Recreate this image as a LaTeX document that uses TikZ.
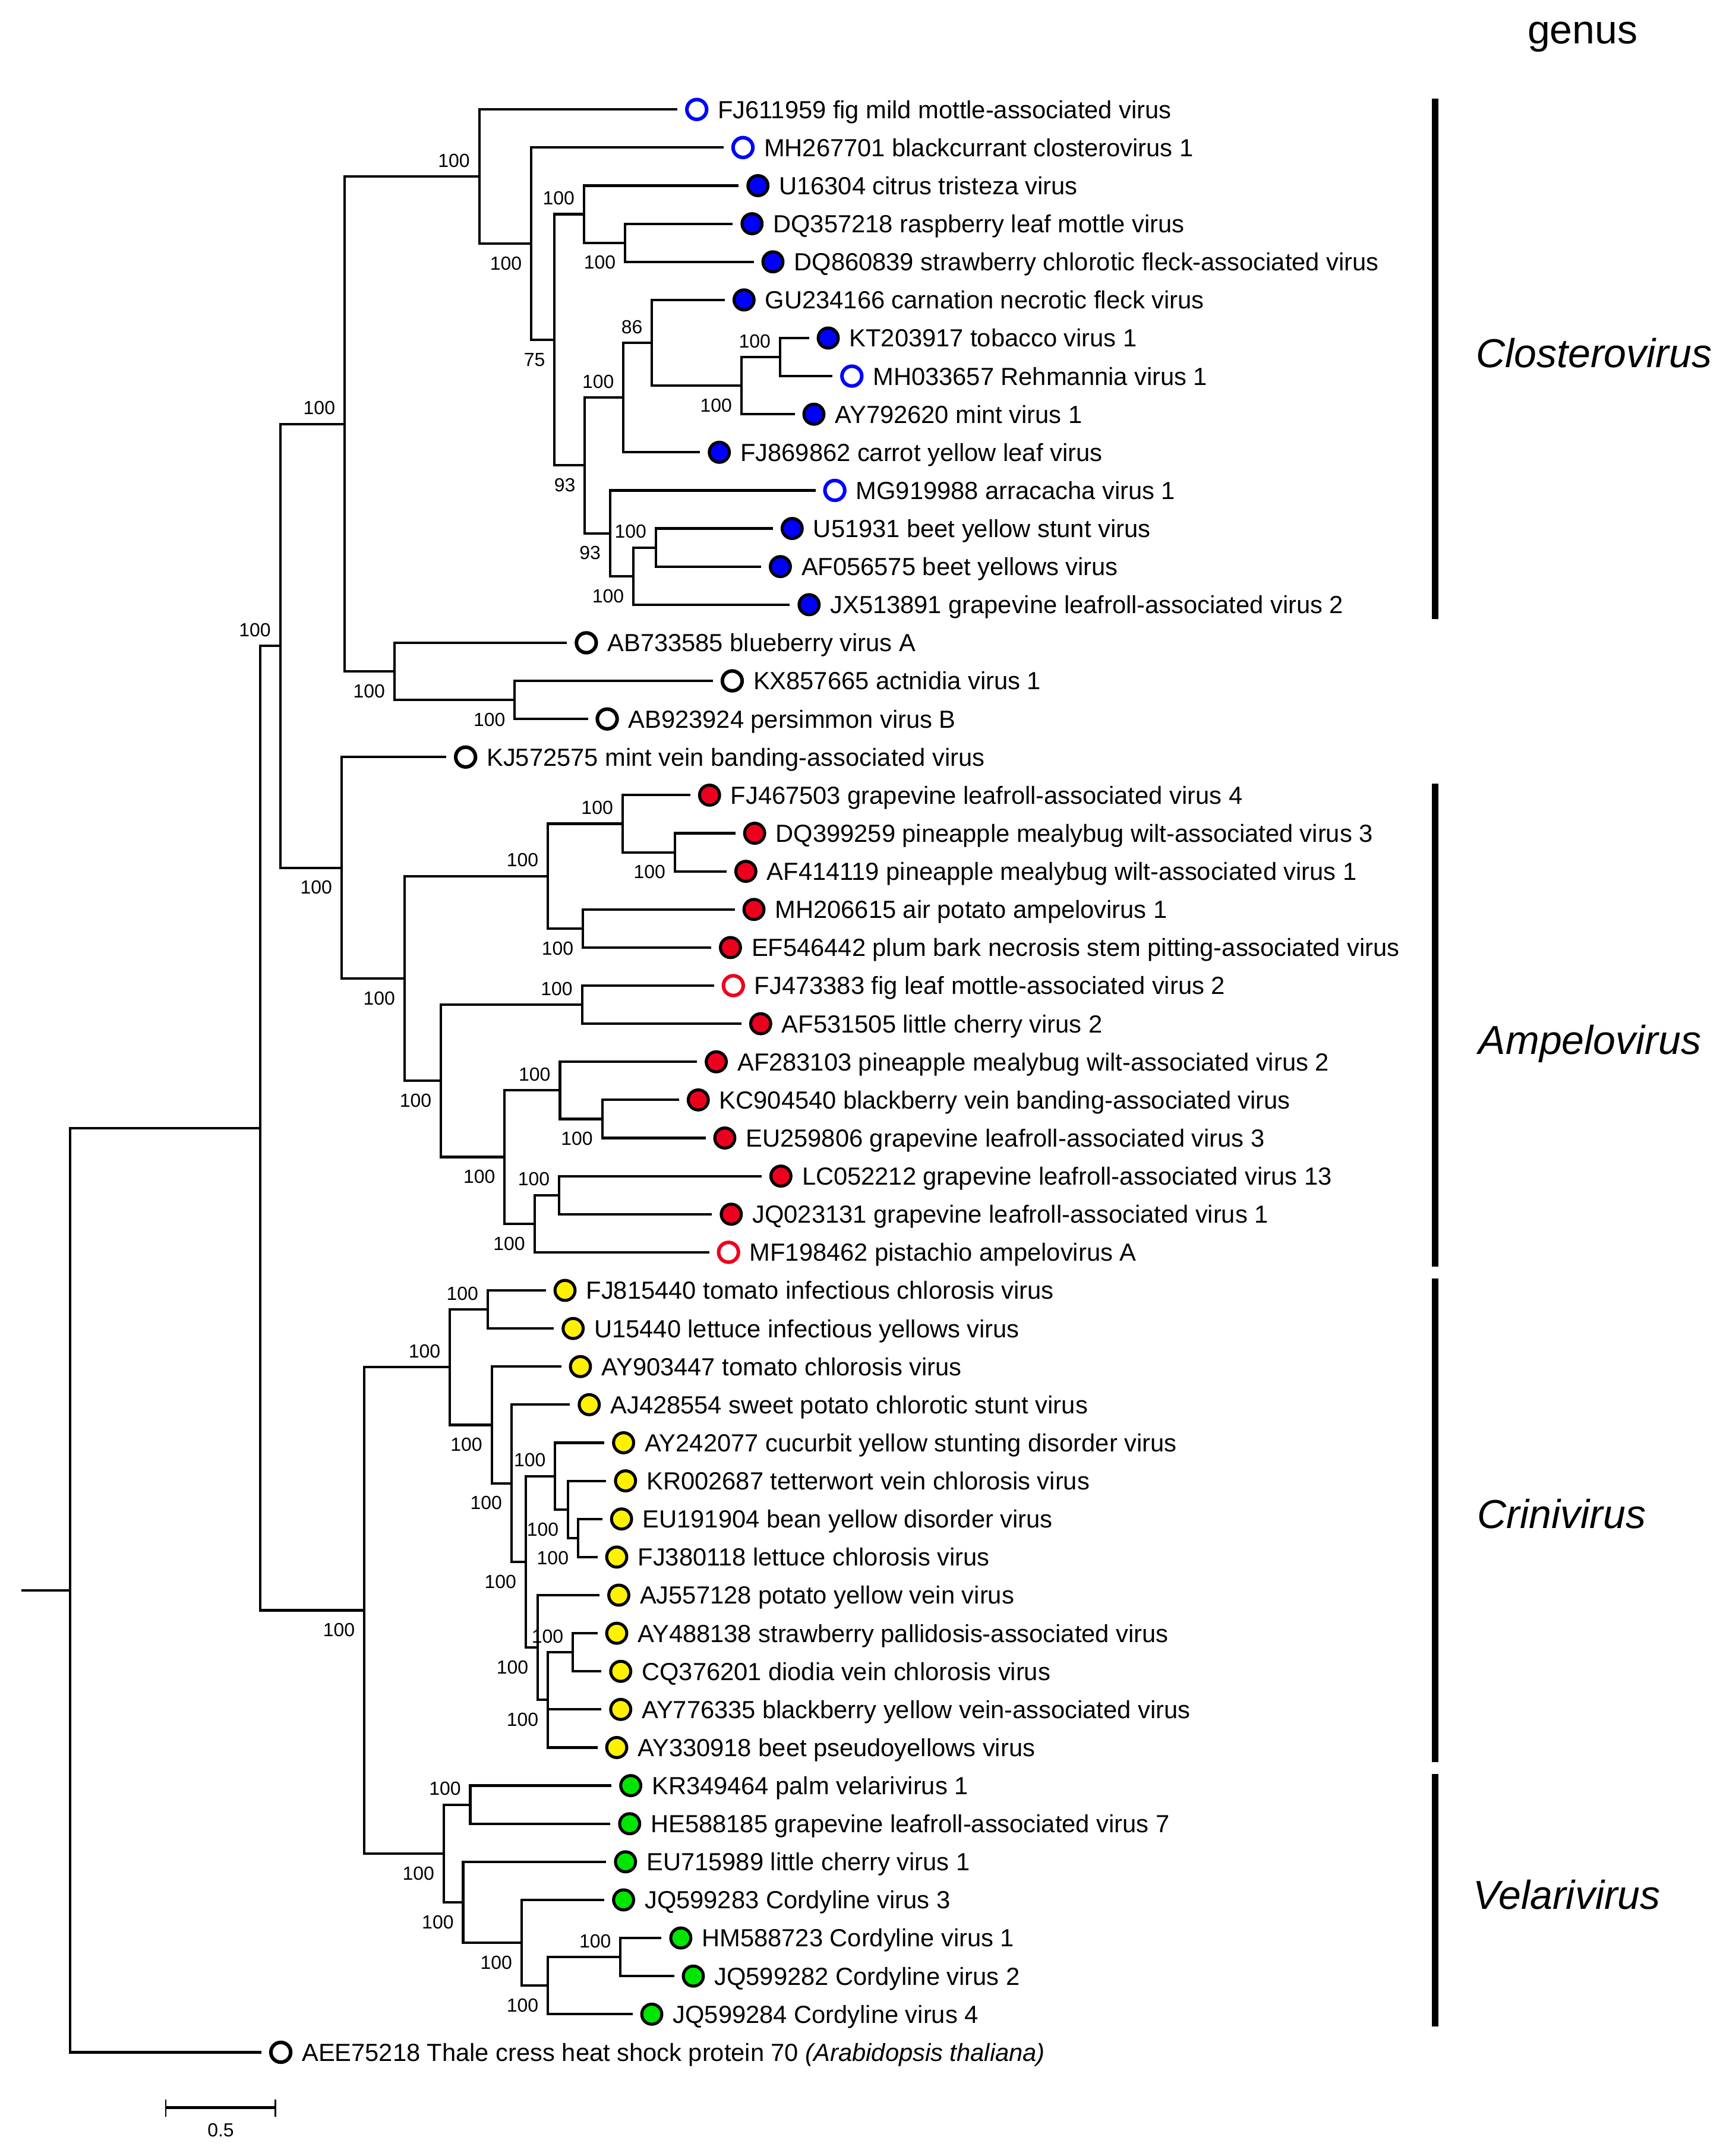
\documentclass[tikz,border=0pt]{standalone}
\usepackage{fontspec}
\setmainfont{Liberation Sans}
\usetikzlibrary{calc}
\definecolor{cblue}{RGB}{0,0,255}
\definecolor{cred}{RGB}{237,0,30}
\definecolor{cyel}{RGB}{255,242,0}
\definecolor{cgrn}{RGB}{0,230,0}
\tikzset{
  br/.style={line width=0.9pt},
  dot/.style={circle, inner sep=0pt, minimum size=7.3pt, line width=1.1pt},
  odot/.style={circle, inner sep=0pt, minimum size=7.2pt, line width=1.3pt, fill=white},
  fb/.style={dot, draw=black, fill=cblue},
  fr/.style={dot, draw=black, fill=cred},
  fy/.style={dot, draw=black, fill=cyel},
  fg/.style={dot, draw=black, fill=cgrn},
  ob/.style={odot, draw=cblue},
  orr/.style={odot, draw=cred},
  ok/.style={odot, draw=black},
  lbl/.style={anchor=base west, inner sep=0pt, font=\fontsize{9}{10}\selectfont},
  bs/.style={anchor=east, inner sep=0pt, font=\fontsize{6.9}{8}\selectfont},
  genlbl/.style={anchor=base west, inner sep=0pt, font=\fontsize{14.7}{16}\selectfont\itshape},
  bar/.style={line width=2.4pt},
}
\newcommand{\tleaf}[5]{\coordinate (#1) at (#2,#3); \node[#4] (#1c) at ({#2+14},#3) {}; \node[lbl] (#1t) at ({#2+29},{#3+6.45}) {#5};}
\newcommand{\tedge}[2]{\draw[br] (#1) |- (#2);}
\newcommand{\bslup}[2]{\node[bs] (#1-bs) at ($(#1)+(-6.5,-11.6)$) {#2};}
\newcommand{\bsldn}[2]{\node[bs] (#1-bs) at ($(#1)+(-6.5,14.4)$) {#2};}
\begin{document}
\begin{tikzpicture}[x=0.5pt,y=-0.5pt]
\useasboundingbox (0,0) rectangle (1253,1568);
% ---------------- leaves
\tleaf{L1}{492.7}{79.6}{ob}{FJ611959 fig mild mottle-associated virus}
\tleaf{L2}{526.3}{107.305}{ob}{MH267701 blackcurrant closterovirus 1}
\tleaf{L3}{537.2}{135.01}{fb}{U16304 citrus tristeza virus}
\tleaf{L4}{532.9}{162.715}{fb}{DQ357218 raspberry leaf mottle virus}
\tleaf{L5}{548.1}{190.42}{fb}{DQ860839 strawberry chlorotic fleck-associated virus}
\tleaf{L6}{527.1}{218.125}{fb}{GU234166 carnation necrotic fleck virus}
\tleaf{L7}{588.3}{245.83}{fb}{KT203917 tobacco virus 1}
\tleaf{L8}{605.5}{273.535}{ob}{MH033657 Rehmannia virus 1}
\tleaf{L9}{577.9}{301.24}{fb}{AY792620 mint virus 1}
\tleaf{L10}{509.1}{328.945}{fb}{FJ869862 carrot yellow leaf virus}
\tleaf{L11}{593.1}{356.65}{ob}{MG919988 arracacha virus 1}
\tleaf{L12}{562.1}{384.355}{fb}{U51931 beet yellow stunt virus}
\tleaf{L13}{553.5}{412.06}{fb}{AF056575 beet yellows virus}
\tleaf{L14}{574.4}{439.765}{fb}{JX513891 grapevine leafroll-associated virus 2}
\tleaf{L15}{412.4}{467.47}{ok}{AB733585 blueberry virus A}
\tleaf{L16}{518.5}{495.175}{ok}{KX857665 actnidia virus 1}
\tleaf{L17}{427.6}{522.88}{ok}{AB923924 persimmon virus B}
\tleaf{L18}{324.6}{550.585}{ok}{KJ572575 mint vein banding-associated virus}
\tleaf{L19}{502.0}{578.29}{fr}{FJ467503 grapevine leafroll-associated virus 4}
\tleaf{L20}{534.8}{605.995}{fr}{DQ399259 pineapple mealybug wilt-associated virus 3}
\tleaf{L21}{528.4}{633.7}{fr}{AF414119 pineapple mealybug wilt-associated virus 1}
\tleaf{L22}{534.3}{661.405}{fr}{MH206615 air potato ampelovirus 1}
\tleaf{L23}{517.2}{689.11}{fr}{EF546442 plum bark necrosis stem pitting-associated virus}
\tleaf{L24}{519.3}{716.815}{orr}{FJ473383 fig leaf mottle-associated virus 2}
\tleaf{L25}{539.2}{744.52}{fr}{AF531505 little cherry virus 2}
\tleaf{L26}{506.9}{772.225}{fr}{AF283103 pineapple mealybug wilt-associated virus 2}
\tleaf{L27}{493.8}{799.93}{fr}{KC904540 blackberry vein banding-associated virus}
\tleaf{L28}{513.1}{827.635}{fr}{EU259806 grapevine leafroll-associated virus 3}
\tleaf{L29}{553.9}{855.34}{fr}{LC052212 grapevine leafroll-associated virus 13}
\tleaf{L30}{517.8}{883.045}{fr}{JQ023131 grapevine leafroll-associated virus 1}
\tleaf{L31}{515.8}{910.75}{orr}{MF198462 pistachio ampelovirus A}
\tleaf{L32}{396.9}{938.455}{fy}{FJ815440 tomato infectious chlorosis virus}
\tleaf{L33}{402.8}{966.16}{fy}{U15440 lettuce infectious yellows virus}
\tleaf{L34}{408.1}{993.865}{fy}{AY903447 tomato chlorosis virus}
\tleaf{L35}{414.5}{1021.57}{fy}{AJ428554 sweet potato chlorotic stunt virus}
\tleaf{L36}{439.5}{1049.275}{fy}{AY242077 cucurbit yellow stunting disorder virus}
\tleaf{L37}{440.9}{1076.98}{fy}{KR002687 tetterwort vein chlorosis virus}
\tleaf{L38}{438.0}{1104.685}{fy}{EU191904 bean yellow disorder virus}
\tleaf{L39}{434.5}{1132.39}{fy}{FJ380118 lettuce chlorosis virus}
\tleaf{L40}{436.0}{1160.095}{fy}{AJ557128 potato yellow vein virus}
\tleaf{L41}{434.5}{1187.8}{fy}{AY488138 strawberry pallidosis-associated virus}
\tleaf{L42}{437.4}{1215.505}{fy}{CQ376201 diodia vein chlorosis virus}
\tleaf{L43}{437.4}{1243.21}{fy}{AY776335 blackberry yellow vein-associated virus}
\tleaf{L44}{434.5}{1270.915}{fy}{AY330918 beet pseudoyellows virus}
\tleaf{L45}{444.7}{1298.62}{fg}{KR349464 palm velarivirus 1}
\tleaf{L46}{443.9}{1326.325}{fg}{HE588185 grapevine leafroll-associated virus 7}
\tleaf{L47}{440.9}{1354.03}{fg}{EU715989 little cherry virus 1}
\tleaf{L48}{439.5}{1381.735}{fg}{JQ599283 Cordyline virus 3}
\tleaf{L49}{481.1}{1409.44}{fg}{HM588723 Cordyline virus 1}
\tleaf{L50}{490.2}{1437.145}{fg}{JQ599282 Cordyline virus 2}
\tleaf{L51}{460.0}{1464.85}{fg}{JQ599284 Cordyline virus 4}
\tleaf{L52}{190.2}{1492.555}{ok}{AEE75218 Thale cress heat shock protein 70 \textit{(Arabidopsis thaliana)}}
% ---------------- internal nodes: Closterovirus
\coordinate (n454) at (454.6,176.57); \tedge{n454}{L4} \tedge{n454}{L5}
\coordinate (n425) at (424.7,155.79); \tedge{n425}{L3} \tedge{n425}{n454}
\coordinate (n567) at (567.3,259.68); \tedge{n567}{L7} \tedge{n567}{L8}
\coordinate (n539) at (539.2,280.46); \tedge{n539}{n567} \tedge{n539}{L9}
\coordinate (n474) at (474.1,249.29); \tedge{n474}{L6} \tedge{n474}{n539}
\coordinate (n453) at (453.4,289.12); \tedge{n453}{n474} \tedge{n453}{L10}
\coordinate (n477) at (477.0,398.21); \tedge{n477}{L12} \tedge{n477}{L13}
\coordinate (n461) at (460.6,418.99); \tedge{n461}{n477} \tedge{n461}{L14}
\coordinate (n444) at (443.7,387.82); \tedge{n444}{L11} \tedge{n444}{n461}
\coordinate (nA) at (425.3,338.47); \tedge{nA}{n453} \tedge{nA}{n444}
\coordinate (n403) at (403.3,247.13); \tedge{n403}{n425} \tedge{n403}{nA}
\coordinate (n386) at (386.3,177.22); \tedge{n386}{L2} \tedge{n386}{n403}
\coordinate (n348) at (348.5,128.41); \tedge{n348}{L1} \tedge{n348}{n386}
\coordinate (n374) at (374.3,509.03); \tedge{n374}{L16} \tedge{n374}{L17}
\coordinate (n287) at (286.8,488.25); \tedge{n287}{L15} \tedge{n287}{n374}
\coordinate (n250) at (250.6,308.33); \tedge{n250}{n348} \tedge{n250}{n287}
% Ampelovirus
\coordinate (n491) at (490.8,619.85); \tedge{n491}{L20} \tedge{n491}{L21}
\coordinate (n453b) at (452.7,599.07); \tedge{n453b}{L19} \tedge{n453b}{n491}
\coordinate (n424b) at (423.9,675.26); \tedge{n424b}{L22} \tedge{n424b}{L23}
\coordinate (n398) at (398.4,637.17); \tedge{n398}{n453b} \tedge{n398}{n424b}
\coordinate (n423c) at (423.3,730.67); \tedge{n423c}{L24} \tedge{n423c}{L25}
\coordinate (n438) at (438.0,813.78); \tedge{n438}{L27} \tedge{n438}{L28}
\coordinate (n407) at (407.2,793.0); \tedge{n407}{L26} \tedge{n407}{n438}
\coordinate (n407b) at (406.6,869.19); \tedge{n407b}{L29} \tedge{n407b}{L30}
\coordinate (n389) at (388.7,889.97); \tedge{n389}{n407b} \tedge{n389}{L31}
\coordinate (n367) at (367.0,841.49); \tedge{n367}{n407} \tedge{n367}{n389}
\coordinate (n321) at (320.6,786.08); \tedge{n321}{n423c} \tedge{n321}{n367}
\coordinate (n294) at (294.2,711.63); \tedge{n294}{n398} \tedge{n294}{n321}
\coordinate (n248) at (248.4,631.11); \tedge{n248}{L18} \tedge{n248}{n294}
\coordinate (n204) at (203.8,469.72); \tedge{n204}{n250} \tedge{n204}{n248}
% Crinivirus
\coordinate (n355) at (354.7,952.31); \tedge{n355}{L32} \tedge{n355}{L33}
\coordinate (n420) at (420.4,1118.54); \tedge{n420}{L38} \tedge{n420}{L39}
\coordinate (n413) at (413.1,1097.76); \tedge{n413}{L37} \tedge{n413}{n420}
\coordinate (n404) at (403.7,1073.52); \tedge{n404}{L36} \tedge{n404}{n413}
\coordinate (n417) at (416.6,1201.65); \tedge{n417}{L41} \tedge{n417}{L42}
\coordinate (n398c) at (398.4,1236.28); \tedge{n398c}{n417} \tedge{n398c}{L43} \tedge{n398c}{L44}
\coordinate (n391) at (391.1,1198.19); \tedge{n391}{L40} \tedge{n391}{n398c}
\coordinate (n382) at (382.3,1135.86); \tedge{n382}{n404} \tedge{n382}{n391}
\coordinate (n372) at (372.0,1078.72); \tedge{n372}{L35} \tedge{n372}{n382}
\coordinate (n358) at (357.6,1036.29); \tedge{n358}{L34} \tedge{n358}{n372}
\coordinate (n327) at (327.1,994.30); \tedge{n327}{n355} \tedge{n327}{n358}
% Velarivirus
\coordinate (n342) at (342.0,1312.47); \tedge{n342}{L45} \tedge{n342}{L46}
\coordinate (n451) at (451.2,1423.29); \tedge{n451}{L49} \tedge{n451}{L50}
\coordinate (n398v) at (398.4,1444.07); \tedge{n398v}{n451} \tedge{n398v}{L51}
\coordinate (n379) at (379.3,1412.90); \tedge{n379}{L48} \tedge{n379}{n398v}
\coordinate (n337) at (336.8,1383.47); \tedge{n337}{L47} \tedge{n337}{n379}
\coordinate (n323) at (322.7,1347.97); \tedge{n323}{n342} \tedge{n323}{n337}
\coordinate (n265) at (264.9,1171.14); \tedge{n265}{n327} \tedge{n265}{n323}
\coordinate (n189) at (189.1,820.43); \tedge{n189}{n204} \tedge{n189}{n265}
\coordinate (root) at (50.9,1156.49); \tedge{root}{n189} \tedge{root}{L52}
\coordinate (stub) at (15.5,1156.49); \draw[br] (stub) -- (root);
% ---------------- bootstrap values
\bslup{n204}{100}
\bslup{n250}{100}
\bslup{n348}{100}
\bsldn{n386}{100}
\bsldn{n403}{75}
\bslup{n425}{100}
\bsldn{n454}{100}
\bsldn{nA}{93}
\bslup{n453}{100}
\bslup{n474}{86}
\bsldn{n539}{100}
\bslup{n567}{100}
\bsldn{n444}{93}
\bsldn{n461}{100}
\bslup{n477}{100}
\bsldn{n287}{100}
\bsldn{n374}{100}
\bsldn{n248}{100}
\bsldn{n294}{100}
\bslup{n398}{100}
\bslup{n453b}{100}
\bsldn{n491}{100}
\bsldn{n424b}{100}
\bsldn{n321}{100}
\bslup{n423c}{100}
\bsldn{n367}{100}
\bslup{n407}{100}
\bsldn{n438}{100}
\bsldn{n389}{100}
\bslup{n407b}{100}
\bsldn{n265}{100}
\bslup{n327}{100}
\bslup{n355}{100}
\bsldn{n358}{100}
\bsldn{n372}{100}
\bsldn{n382}{100}
\bslup{n404}{100}
\bsldn{n413}{100}
\bsldn{n420}{100}
\bsldn{n391}{100}
\bsldn{n398c}{100}
\bslup{n417}{100}
\bsldn{n323}{100}
\bslup{n342}{100}
\bsldn{n337}{100}
\bsldn{n379}{100}
\bsldn{n398v}{100}
\bslup{n451}{100}
% ---------------- genus bars and labels
\node[anchor=base west, inner sep=0pt, font=\fontsize{14.7}{16}\selectfont] (genus) at (1110.5,31.8) {genus};
\coordinate (cb1) at (1043.7,71.7);  \coordinate (cb2) at (1043.7,450.1);
\coordinate (ab1) at (1043.7,569.9); \coordinate (ab2) at (1043.7,921.1);
\coordinate (rb1) at (1043.7,929.7); \coordinate (rb2) at (1043.7,1281.4);
\coordinate (vb1) at (1043.7,1290.1); \coordinate (vb2) at (1043.7,1474.0);
\draw[bar] (cb1) -- (cb2);
\draw[bar] (ab1) -- (ab2);
\draw[bar] (rb1) -- (rb2);
\draw[bar] (vb1) -- (vb2);
\node[genlbl] (gclo) at (1073,267.3) {Closterovirus};
\node[genlbl] (gamp) at (1075,766.5) {Ampelovirus};
\node[genlbl] (gcri) at (1074,1111.5) {Crinivirus};
\node[genlbl] (gvel) at (1071,1388.5) {Velarivirus};
% ---------------- scale bar
\coordinate (sbl) at (120.5,1532.8); \coordinate (sbr) at (200.3,1532.8);
\draw[line width=1.1pt] (sbl) -- (sbr);
\draw[line width=0.5pt] ($(sbl)+(0,-6)$) -- ($(sbl)+(0,6.5)$);
\draw[line width=0.5pt] ($(sbr)+(0,-6)$) -- ($(sbr)+(0,6.5)$);
\node[inner sep=0pt, font=\fontsize{6.9}{8}\selectfont] (sblab) at (160.5,1549) {0.5};
\end{tikzpicture}
\end{document}
